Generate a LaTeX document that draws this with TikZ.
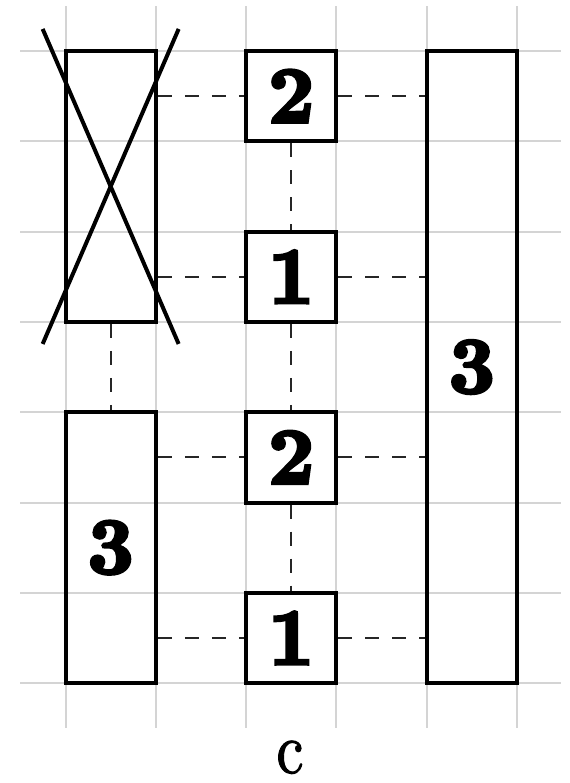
\documentclass[tikz,border=0pt]{standalone}
\usepackage{graphicx}
\usepackage{fontspec}
\newfontfamily\digitfont[FakeBold=4]{lmroman10-bold.otf}
\newfontfamily\labelfont[FakeBold=1.5]{lmroman10-regular.otf}
\begin{document}
\begin{tikzpicture}[x=0.5pt,y=-0.5pt,
  gridline/.style={draw=black!17,line width=1pt},
  boxnode/.style={draw=black,line width=2pt,rectangle,inner sep=0pt,
    minimum width=45.15pt,font=\digitfont\fontsize{40}{40}\selectfont},
  conn/.style={draw=black!85,line width=0.9pt,dash pattern=on 7pt off 6.5pt},
  crossline/.style={draw=black,line width=2pt}]
\useasboundingbox (0,0) rectangle (569,783);
% grid
\foreach \i in {0,...,5}
  \draw[gridline] (65.5+90.3*\i,6) -- (65.5+90.3*\i,728);
\foreach \j in {0,...,7}
  \draw[gridline] (20,51+90.3*\j) -- (561,51+90.3*\j);
% boxes
\node[boxnode,minimum height=135.45pt] (LT) at (110.65,186.45) {};
\node[boxnode,minimum height=135.45pt] (LB) at (110.65,547.65) {3};
\node[boxnode,minimum height=45.15pt] (M1) at (291.25,96.15) {2};
\node[boxnode,minimum height=45.15pt] (M2) at (291.25,276.75) {1};
\node[boxnode,minimum height=45.15pt] (M3) at (291.25,457.35) {2};
\node[boxnode,minimum height=45.15pt] (M4) at (291.25,637.95) {1};
\node[boxnode,minimum height=316.05pt] (R) at (471.85,367.05) {3};
% cross
\coordinate (xa) at (42.65,28.95);
\coordinate (xb) at (178.65,343.95);
\coordinate (xc) at (178.65,28.95);
\coordinate (xd) at (42.65,343.95);
\draw[crossline] (xa) -- (xb);
\draw[crossline] (xc) -- (xd);
% connectors
\draw[conn] (M1.west -| LT.east) -- (M1.west);
\draw[conn] (M2.west -| LT.east) -- (M2.west);
\draw[conn] (M3.west -| LB.east) -- (M3.west);
\draw[conn] (M4.west -| LB.east) -- (M4.west);
\draw[conn] (M1.east) -- (M1.east -| R.west);
\draw[conn] (M2.east) -- (M2.east -| R.west);
\draw[conn] (M3.east) -- (M3.east -| R.west);
\draw[conn] (M4.east) -- (M4.east -| R.west);
\draw[conn] (M1.south) -- (M2.north);
\draw[conn] (M2.south) -- (M3.north);
\draw[conn] (M3.south) -- (M4.north);
\draw[conn] (LT.south) -- (LB.north);
% label
\node[inner sep=0pt,anchor=base] (lbl) at (290,773) {\scalebox{0.85}[1]{\labelfont\fontsize{36}{36}\selectfont c}};
\end{tikzpicture}
\end{document}
